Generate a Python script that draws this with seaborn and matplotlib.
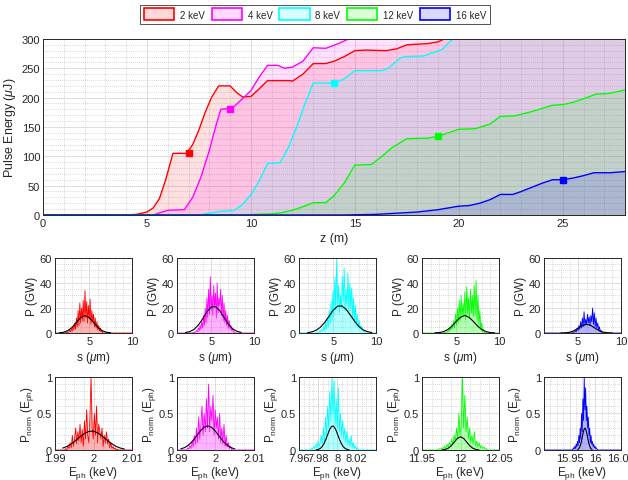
import numpy as np
import matplotlib
matplotlib.use('Agg')
import matplotlib.pyplot as plt
import seaborn as sns
from matplotlib.patches import Patch
from matplotlib.ticker import AutoMinorLocator
from matplotlib.colors import to_rgba

# ---- data ----
series_names = ['2 keV', '4 keV', '8 keV', '12 keV', '16 keV']
colors = ['#ff0000', '#ff00ff', '#00ffff', '#00ff00', '#0000ff']

# pulse energy vs undulator position
red_z = [0, 4.0, 4.5, 5.0, 5.3, 5.6, 5.9, 6.25, 6.9, 7.2, 7.5, 7.8, 8.1, 8.45, 9.0, 9.3, 9.6, 10.0,
         10.4, 10.8, 11.9, 12.0, 12.5, 13.0, 13.6, 14.0, 14.5, 15.0, 15.5, 16.5, 17.0, 17.5, 18.5,
         19.0, 19.3, 20.0, 28.0]
red_E = [0, 0, 1, 5, 12, 28, 60, 105, 105, 120, 145, 175, 200, 220, 220, 209, 201, 202,
         215, 229, 229, 228, 240, 258, 258, 262, 270, 280, 281, 280, 283, 290, 292,
         295, 300, 312, 380]
mag_z = [0, 5.3, 6.0, 6.8, 7.2, 7.6, 8.0, 8.3, 8.55, 9.1, 9.5, 10.0, 10.4, 10.8, 11.3, 11.6, 12.0,
         12.5, 13.0, 13.6, 14.2, 14.7, 15.5, 28.0]
mag_E = [0, 0, 8, 9, 30, 65, 110, 150, 180, 182, 195, 212, 235, 255, 255, 250, 252,
         262, 285, 284, 292, 300, 315, 400]
cyan_z = [0, 7.5, 8.5, 9.2, 9.6, 10.0, 10.4, 10.8, 11.4, 11.8, 12.2, 12.6, 13.0, 14.0, 14.5, 15.0,
          16.3, 16.6, 17.2, 17.5, 18.3, 18.7, 19.2, 19.7, 20.5, 28.0]
cyan_E = [0, 0, 6, 8, 18, 35, 58, 88, 89, 115, 150, 190, 225, 225, 232, 246,
          246, 250, 268, 270, 271, 276, 282, 300, 318, 400]
green_z = [0, 9.5, 11.0, 11.5, 12.0, 12.5, 13.0, 13.6, 14.0, 14.5, 15.0, 15.8, 16.3, 16.8, 17.5,
           18.5, 19.0, 19.5, 20.0, 20.8, 21.5, 22.0, 22.7, 23.5, 24.5, 25.0, 25.5, 26.0, 26.6,
           27.2, 28.0]
green_E = [0, 0, 2, 4, 8, 14, 21, 21, 33, 55, 85, 86, 100, 115, 130,
           131, 134, 140, 146, 147, 155, 168, 169, 176, 187, 188, 192, 198, 206,
           207, 213]
blue_z = [0, 14.5, 16.0, 17.0, 18.0, 19.0, 19.5, 20.0, 20.5, 21.0, 21.5, 22.0, 22.6, 23.0, 23.5,
          24.0, 24.5, 25.0, 25.5, 26.0, 26.5, 27.3, 28.0]
blue_E = [0, 0, 1, 3, 5, 9, 12, 15, 16, 20, 26, 35, 35, 40, 47,
          54, 60, 60, 63, 67, 72, 72, 74]
energy_z = [red_z, mag_z, cyan_z, green_z, blue_z]
energy_E = [red_E, mag_E, cyan_E, green_E, blue_E]
marker_z = [7, 9, 14, 19, 25]
marker_E = [105, 181, 225, 134, 60]

# power profiles (GW) over s (um)
prof_span = [(2.2, 6.6), (2.8, 7.8), (3.0, 8.8), (3.5, 8.3), (4.2, 7.8)]
prof_p = [
    [0, 0.5, 0.2, 1, 0.5, 2, 1, 3.5, 1.5, 5, 2.5, 8, 3, 12, 5, 18, 6, 24, 8, 20, 10, 26, 9, 34, 12,
     25, 8, 22, 11, 27, 7, 18, 9, 15, 5, 12, 4, 9, 2.5, 6, 1.5, 4, 0.8, 2, 0],
    [0, 0.5, 0.2, 1, 0.5, 2, 1, 4, 2, 6, 3, 9, 4, 14, 6, 20, 8, 28, 12, 35, 15, 45, 18, 30, 14, 38,
     20, 32, 12, 40, 16, 28, 22, 35, 14, 30, 10, 24, 8, 18, 6, 14, 4, 10, 3, 6, 2, 3, 1, 1, 0],
    [0, 0.5, 1, 0.5, 2, 1, 3, 1.5, 5, 2, 8, 3, 12, 5, 18, 7, 25, 10, 34, 14, 45, 18, 60, 22, 38, 16,
     30, 20, 45, 25, 52, 18, 35, 22, 48, 15, 40, 20, 36, 12, 28, 8, 22, 6, 15, 4, 10, 3, 6, 2, 3, 1,
     1, 0],
    [0, 0.5, 0.3, 1, 0.5, 2, 1, 4, 2, 7, 3, 10, 4, 15, 6, 20, 8, 26, 10, 30, 12, 24, 14, 33, 11, 37,
     15, 28, 12, 35, 16, 30, 13, 38, 14, 42, 10, 30, 6, 18, 3, 8, 1, 3, 0],
    [0, 0.3, 0.5, 1, 0.5, 2, 1, 4, 2, 6, 3, 9, 4, 12, 5, 17, 6, 11, 7, 15, 8, 13, 6, 14, 9, 20, 7,
     16, 5, 12, 4, 8, 2, 5, 1, 2, 0],
]
# black smooth fits on the profiles
fit_s = [
    [1.5, 2, 2.5, 3, 3.5, 4, 4.5, 5, 5.5, 6, 6.5, 7, 7.5],
    [2, 2.5, 3, 3.5, 4, 4.5, 5, 5.5, 6, 6.5, 7, 7.5, 8, 8.5],
    [2, 2.5, 3, 3.5, 4, 4.5, 5, 5.5, 6, 6.5, 7, 7.5, 8, 8.5, 9, 9.5],
    [2.5, 3, 3.5, 4, 4.5, 5, 5.5, 6, 6.5, 7, 7.5, 8, 8.5, 9, 9.5],
    [3, 3.5, 4, 4.5, 5, 5.5, 6, 6.5, 7, 7.5, 8, 8.5, 9],
]
fit_p = [
    [0.2, 0.6, 1.9, 4.5, 8.5, 12.4, 14, 12.4, 8.5, 4.5, 1.9, 0.6, 0.2],
    [0.35, 1.1, 2.9, 6.3, 11.3, 16.9, 20.8, 21.2, 17.9, 12.5, 7.2, 3.4, 1.4, 0.45],
    [0.3, 0.9, 2.2, 4.6, 8.4, 13.3, 18.2, 21.4, 21.7, 19.0, 14.4, 9.4, 5.3, 2.5, 1.1, 0.4],
    [0.1, 0.34, 1.06, 2.7, 5.5, 9.3, 12.6, 14, 12.6, 9.3, 5.5, 2.7, 1.06, 0.34, 0.1],
    [0.03, 0.15, 0.6, 1.75, 3.8, 6.0, 7, 6.0, 3.8, 1.75, 0.6, 0.15, 0.03],
]

# normalised spectra over photon energy (keV)
spec_xlim = [(1.99, 2.01), (1.99, 2.01), (7.96, 8.04), (11.95, 12.05), (15.9, 16.05)]
spec_ticks = [[1.99, 2.0, 2.01], [1.99, 2.0, 2.01], [7.96, 7.98, 8.0, 8.02],
              [11.95, 12.0, 12.05], [15.95, 16.0, 16.05]]
spec_ticklabels = [['1.99', '2', '2.01'], ['1.99', '2', '2.01'], ['7.96', '7.98', '8', '8.02'],
                   ['11.95', '12', '12.05'], ['15.95', '16', '16.05']]
spec_span = [(1.9925, 2.0065), (1.9925, 2.0045), (7.972, 8.022), (11.97, 12.035), (15.955, 16.005)]
spec_p = [
    [0, 0.02, 0, 0.05, 0.02, 0.1, 0.03, 0.2, 0.05, 0.15, 0.3, 0.08, 0.25, 0.12, 0.35, 0.1, 0.28,
     0.05, 0.4, 0.15, 0.55, 0.2, 0.1, 0.45, 1.0, 0.3, 0.15, 0.5, 0.2, 0.6, 0.1, 0.35, 0.25, 0.15,
     0.3, 0.05, 0.2, 0.1, 0.25, 0.08, 0.15, 0.03, 0.1, 0.02, 0.05, 0.01, 0.03, 0, 0.01, 0],
    [0, 0.03, 0.01, 0.06, 0.02, 0.12, 0.04, 0.2, 0.08, 0.3, 0.1, 0.45, 0.15, 0.35, 0.6, 0.2, 0.5,
     0.25, 0.7, 0.3, 0.9, 0.25, 0.6, 0.4, 0.75, 0.2, 0.55, 0.3, 0.45, 0.15, 0.5, 0.1, 0.3, 0.08,
     0.35, 0.05, 0.2, 0.04, 0.1, 0.02, 0.05, 0.01, 0],
    [0, 0.03, 0.01, 0.05, 0.02, 0.08, 0.03, 0.12, 0.05, 0.1, 0.2, 0.08, 0.3, 0.12, 0.45, 0.2, 0.6,
     0.3, 0.8, 0.4, 1.0, 0.5, 0.95, 0.35, 0.7, 0.3, 0.85, 0.25, 0.5, 0.2, 0.4, 0.15, 0.3, 0.1,
     0.25, 0.08, 0.15, 0.05, 0.2, 0.04, 0.1, 0.02, 0.06, 0.01, 0.03, 0],
    [0, 0.01, 0.02, 0.01, 0.03, 0.02, 0.05, 0.02, 0.08, 0.04, 0.1, 0.06, 0.15, 0.08, 0.2, 0.12,
     0.3, 0.15, 0.5, 0.2, 0.35, 1.0, 0.3, 0.75, 0.25, 0.45, 0.15, 0.3, 0.1, 0.2, 0.08, 0.25, 0.06,
     0.12, 0.04, 0.1, 0.03, 0.06, 0.02, 0.04, 0.01, 0.02, 0],
    [0, 0.01, 0.03, 0.01, 0.05, 0.02, 0.08, 0.04, 0.12, 0.06, 0.2, 0.1, 0.3, 0.15, 0.5, 0.25, 0.7,
     0.4, 1.0, 0.55, 0.85, 0.4, 0.6, 0.3, 0.45, 0.2, 0.3, 0.1, 0.2, 0.08, 0.12, 0.05, 0.08, 0.03,
     0.05, 0.02, 0.03, 0.01, 0],
]
spec_fit_e = [
    [1.992, 1.993, 1.994, 1.995, 1.996, 1.997, 1.998, 1.999, 2.000, 2.001, 2.002, 2.003, 2.004,
     2.005, 2.006, 2.007, 2.008],
    [1.991, 1.992, 1.993, 1.994, 1.995, 1.996, 1.997, 1.998, 1.999, 2.000, 2.001, 2.002, 2.003,
     2.004, 2.005],
    [7.978, 7.980, 7.982, 7.984, 7.986, 7.988, 7.990, 7.992, 7.994, 7.996, 7.998, 8.000, 8.002,
     8.004, 8.006, 8.008, 8.010, 8.012],
    [11.976, 11.980, 11.984, 11.988, 11.992, 11.996, 12.000, 12.004, 12.008, 12.012, 12.016,
     12.020, 12.024],
    [15.966, 15.968, 15.970, 15.972, 15.974, 15.976, 15.978, 15.980, 15.982, 15.984, 15.986,
     15.988, 15.990, 15.992, 15.994],
]
spec_fit_p = [
    [0.026, 0.046, 0.076, 0.114, 0.158, 0.201, 0.237, 0.257, 0.257, 0.237, 0.201, 0.158, 0.114,
     0.076, 0.046, 0.026, 0.014],
    [0.015, 0.033, 0.067, 0.119, 0.186, 0.256, 0.31, 0.33, 0.31, 0.256, 0.186, 0.119, 0.067,
     0.033, 0.015],
    [0.003, 0.008, 0.02, 0.045, 0.087, 0.147, 0.218, 0.284, 0.325, 0.325, 0.284, 0.218, 0.147,
     0.087, 0.045, 0.02, 0.008, 0.003],
    [0.002, 0.008, 0.024, 0.058, 0.109, 0.159, 0.18, 0.159, 0.109, 0.058, 0.024, 0.008, 0.002],
    [0.006, 0.017, 0.041, 0.083, 0.146, 0.218, 0.277, 0.3, 0.277, 0.218, 0.146, 0.083, 0.041,
     0.017, 0.006],
]

# ---- style ----
sns.set_theme(style='white')
txt = '#262626'
plt.rcParams.update({
    'font.family': ['Liberation Sans', 'DejaVu Sans'],
    'mathtext.fontset': 'custom',
    'mathtext.rm': 'Liberation Sans',
    'mathtext.it': 'Liberation Sans:italic',
    'text.color': txt, 'axes.labelcolor': txt,
    'xtick.color': txt, 'ytick.color': txt,
    'axes.edgecolor': txt, 'axes.linewidth': 0.7,
})


def style_axes(ax, xminor, yminor, fs=8):
    ax.xaxis.set_minor_locator(AutoMinorLocator(xminor))
    ax.yaxis.set_minor_locator(AutoMinorLocator(yminor))
    ax.grid(True, which='major', color='#d8d8d8', lw=0.6)
    ax.grid(True, which='minor', color='#b4b4b4', lw=0.5, ls=(0, (1, 2)))
    ax.set_axisbelow(True)
    ax.tick_params(which='both', direction='in', labelsize=fs, pad=2)
    ax.tick_params(which='major', length=2.5, width=0.6)
    ax.tick_params(which='minor', length=0)
    for sp in ax.spines.values():
        sp.set_visible(True)
        sp.set_color(txt)


fig = plt.figure(figsize=(6.28, 4.81), dpi=100)

# ---- top panel ----
ax = fig.add_axes([0.0685, 0.551, 0.927, 0.366])
for z, E, c in zip(energy_z, energy_E, colors):
    ax.fill_between(z, 0, E, color=c, alpha=0.12, lw=0)
for z, E, c in zip(energy_z, energy_E, colors):
    sns.lineplot(x=z, y=E, ax=ax, color=c, lw=1.0, estimator=None, sort=False)
for zm, Em, c in zip(marker_z, marker_E, colors):
    ax.plot(zm, Em, 's', color=c, ms=5, zorder=5)
ax.set_xlim(0, 28)
ax.set_ylim(0, 300)
ax.set_xticks(range(0, 26, 5))
ax.set_yticks(range(0, 301, 50))
style_axes(ax, 5, 5)
ax.set_xlabel('z (m)', fontsize=9, labelpad=3)
ax.set_ylabel('Pulse Energy ($\\mu$J)', fontsize=9, labelpad=3)

handles = [Patch(facecolor=to_rgba(c, 0.15), edgecolor=c, lw=1.2) for c in colors]
leg = fig.legend(handles, series_names, loc='center', bbox_to_anchor=(0.502, 0.968), ncol=5,
                 frameon=True, fancybox=False, fontsize=7, handlelength=3.1, handleheight=1.5,
                 columnspacing=0.7, handletextpad=0.6, borderpad=0.4, borderaxespad=0)
leg.get_frame().set_edgecolor(txt)
leg.get_frame().set_linewidth(0.7)

lefts = [0.0876, 0.2818, 0.4761, 0.672, 0.866]
w = 0.1226

# ---- power profiles ----
for i, c in enumerate(colors):
    a = fig.add_axes([lefts[i], 0.3056, w, 0.156])
    s = np.concatenate([[1], np.linspace(*prof_span[i], len(prof_p[i])), [10]])
    p = np.concatenate([[0], prof_p[i], [0]])
    a.fill_between(s, 0, p, color=c, alpha=0.3, lw=0)
    sns.lineplot(x=s, y=p, ax=a, color=c, lw=0.6, estimator=None)
    sns.lineplot(x=fit_s[i], y=fit_p[i], ax=a, color='black', lw=0.8, estimator=None)
    a.set_xlim(1, 10)
    a.set_ylim(0, 60)
    a.set_xticks([5, 10])
    a.set_yticks([0, 20, 40, 60])
    style_axes(a, 5, 4)
    a.set_xlabel('s ($\\mu$m)', fontsize=8.5, labelpad=2)
    a.set_ylabel('P (GW)', fontsize=8.5, labelpad=1)

# ---- spectra ----
for i, c in enumerate(colors):
    a = fig.add_axes([lefts[i], 0.0624, w, 0.152])
    lo, hi = spec_xlim[i]
    e = np.concatenate([[lo], np.linspace(*spec_span[i], len(spec_p[i])), [hi]])
    p = np.concatenate([[0], spec_p[i], [0]])
    a.fill_between(e, 0, p, color=c, alpha=0.3, lw=0)
    sns.lineplot(x=e, y=p, ax=a, color=c, lw=0.6, estimator=None)
    sns.lineplot(x=spec_fit_e[i], y=spec_fit_p[i], ax=a, color='black', lw=0.8, estimator=None)
    a.set_xlim(lo, hi)
    a.set_ylim(0, 1)
    a.set_xticks(spec_ticks[i], labels=spec_ticklabels[i])
    a.set_yticks([0, 0.5, 1], labels=['0', '0.5', '1'])
    style_axes(a, 4, 5)
    a.set_xlabel('E$_\\mathrm{ph}$ (keV)', fontsize=8.5, labelpad=1)
    a.set_ylabel('P$_\\mathrm{norm}$ (E$_\\mathrm{ph}$)', fontsize=8.5, labelpad=1)

fig.savefig('out.png', dpi=100)
